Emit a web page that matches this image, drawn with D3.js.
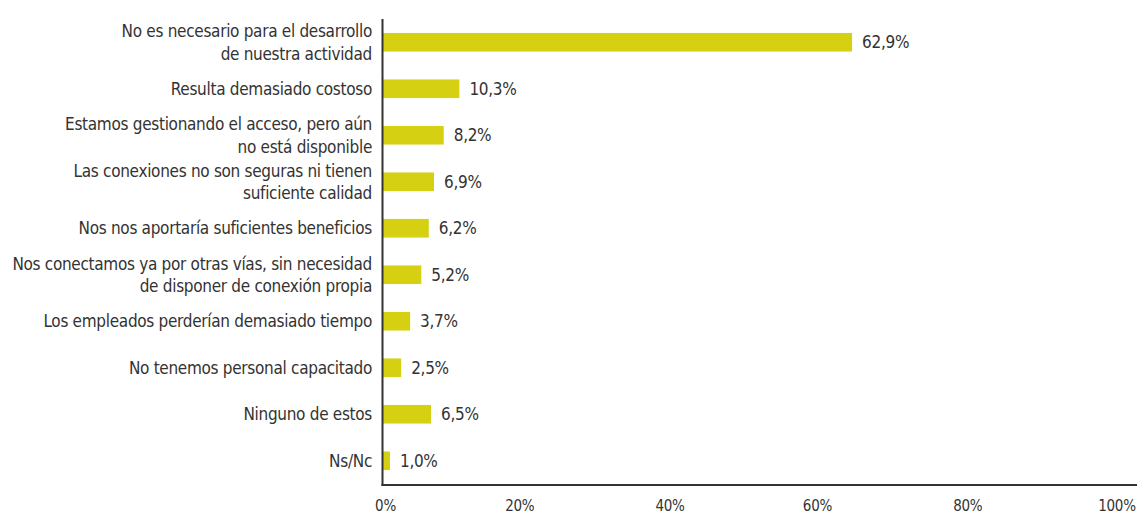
<!DOCTYPE html>
<html><head><meta charset="utf-8">
<script src="https://cdn.jsdelivr.net/npm/d3@7"></script>
<style>
html,body{margin:0;padding:0;background:#fff;}
svg text{font-family:"Liberation Sans Narrow","DejaVu Sans Condensed","Roboto Condensed",sans-serif;fill:#333;letter-spacing:-0.3px;}
</style></head>
<body>
<svg id="chart" width="1141" height="515"></svg>
<script>
const categories = [
  ["No es necesario para el desarrollo","de nuestra actividad"],
  ["Resulta demasiado costoso"],
  ["Estamos gestionando el acceso, pero aún","no está disponible"],
  ["Las conexiones no son seguras ni tienen","suficiente calidad"],
  ["Nos nos aportaría suficientes beneficios"],
  ["Nos conectamos ya por otras vías, sin necesidad","de disponer de conexión propia"],
  ["Los empleados perderían demasiado tiempo"],
  ["No tenemos personal capacitado"],
  ["Ninguno de estos"],
  ["Ns/Nc"]
];
const values = [62.9, 10.3, 8.2, 6.9, 6.2, 5.2, 3.7, 2.5, 6.5, 1.0];
const valueLabels = ["62,9%","10,3%","8,2%","6,9%","6,2%","5,2%","3,7%","2,5%","6,5%","1,0%"];
const ticks = [0, 20, 40, 60, 80, 100];
const tickLabels = ["0%","20%","40%","60%","80%","100%"];

const svg = d3.select("#chart");
const x = d3.scaleLinear().domain([0,100]).range([382.5, 1129]);
const y = d3.scaleBand().domain(d3.range(categories.length)).range([19, 484]).paddingInner(0.6).paddingOuter(0.3);
const color = "#d5d112";
const fs = 17;

// bars
svg.selectAll("rect.bar").data(values).join("rect")
  .attr("class","bar")
  .attr("x", x(0))
  .attr("y", (d,i)=>y(i))
  .attr("width", d=>x(d)-x(0))
  .attr("height", y.bandwidth())
  .attr("fill", color);

// value labels
svg.selectAll("text.val").data(values).join("text")
  .attr("class","val")
  .attr("x", d=>x(d)+10)
  .attr("y", (d,i)=>y(i)+y.bandwidth()/2)
  .attr("dy","0.36em")
  .attr("font-size", fs)
  .text((d,i)=>valueLabels[i]);

// category labels
const lh = 22.6;
const cat = svg.selectAll("text.cat").data(categories).join("text")
  .attr("class","cat")
  .attr("text-anchor","end")
  .attr("font-size", fs)
  .attr("y", (d,i)=>y(i)+y.bandwidth()/2);
cat.each(function(lines){
  const t = d3.select(this);
  const cy = +t.attr("y");
  lines.forEach((ln,j)=>{
    t.append("tspan").attr("x", 372)
      .attr("y", cy + (j - (lines.length-1)/2)*lh)
      .attr("dy","0.36em").text(ln);
  });
});

// axes lines
svg.append("line").attr("x1", x(0)).attr("x2", x(0)).attr("y1", 19).attr("y2", 486)
  .attr("stroke","#333").attr("stroke-width",2);
svg.append("line").attr("x1", x(0)-1).attr("x2", 1137).attr("y1", 485).attr("y2", 485)
  .attr("stroke","#333").attr("stroke-width",2);

// tick labels
const tickOffsets = [3,-12,-11,-13,-12,-12];
svg.selectAll("text.tick").data(ticks).join("text")
  .attr("class","tick")
  .attr("text-anchor","middle")
  .attr("font-size", 15)
  .attr("x", (d,i)=>x(d)+tickOffsets[i])
  .attr("y", 511)
  .text((d,i)=>tickLabels[i]);
</script>
</body></html>
